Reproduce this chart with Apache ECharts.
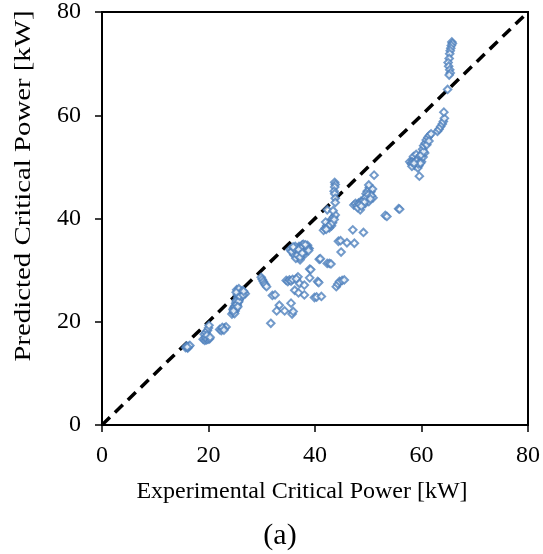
<!DOCTYPE html>
<html>
<head>
<meta charset="utf-8">
<script src="https://cdn.jsdelivr.net/npm/echarts@6/dist/echarts.min.js"></script>
<style>
html,body{margin:0;padding:0;background:#fff;}
#chart{width:543px;height:554px;}
</style>
</head>
<body>
<div id="chart"></div>
<script>
// Experimental vs predicted critical power [kW]
const points = [
  // cluster near 16
  [15.7,15.0],[15.9,15.3],[16.1,14.9],[16.3,15.2],[16.5,15.4],[16.0,15.1],
  // cluster near 20
  [19.0,16.6],[19.3,16.4],[19.6,16.5],[19.9,16.6],[20.2,16.7],[19.4,17.0],[19.2,17.6],[19.5,17.9],[19.8,18.3],[20.0,18.8],[20.1,19.3],[19.7,17.4],[20.3,17.0],
  // cluster near 22.7
  [22.1,18.5],[22.4,18.3],[22.7,18.6],[23.0,18.8],[23.3,19.0],[22.6,18.9],[22.9,18.4],
  // cluster near 25
  [24.4,21.5],[24.7,21.8],[25.0,22.1],[24.6,22.4],[25.2,22.6],[24.9,23.0],[25.4,23.2],[25.1,23.6],[25.6,23.8],[25.3,24.2],[25.8,24.3],[25.5,24.7],[26.0,24.8],[25.4,25.2],[25.9,25.3],[26.3,25.5],[25.6,25.8],[26.1,25.9],[26.7,25.6],[25.3,26.2],[25.7,26.4],[26.4,26.0],[26.9,25.4],[24.8,22.7],[25.2,24.0],[24.9,21.6],
  [25.0,22.9],[25.3,23.4],[25.7,24.0],[26.2,24.9],[25.8,25.0],[26.5,25.2],[25.2,25.7],[26.6,25.9],[24.7,22.1],[25.5,22.9],
  // cluster near 30
  [29.9,28.6],[30.1,28.2],[30.3,27.8],[30.5,27.4],[30.7,27.1],[30.9,26.8],
  // cluster near 35 / 28
  [34.6,28.0],[34.9,27.8],[35.2,28.1],[35.5,27.9],[35.8,28.2],
  // cluster near 37 / 33.5
  [35.3,34.0],[35.8,33.9],[36.2,33.5],[36.5,34.2],[36.9,33.2],[37.0,34.6],[37.3,33.8],[37.6,34.9],[37.8,34.1],[38.1,33.6],[38.3,34.5],[38.6,34.8],[38.9,34.2],[36.8,32.5],[37.2,32.0],[37.5,32.8],[36.0,33.0],[38.0,33.0],[36.4,32.3],[37.8,35.0],
  [36.6,33.7],[37.1,33.0],[37.4,34.3],[37.9,33.4],[38.4,33.9],[36.3,34.6],[36.7,32.9],[38.6,34.3],[37.2,32.5],[35.6,33.6],
  [36.1,34.2],[36.9,34.0],[37.6,33.3],[38.2,34.9],[38.8,33.8],[35.9,34.5],
  // cluster near 43 / 39
  [41.6,37.7],[41.9,38.1],[42.2,38.6],[42.5,39.0],[42.9,39.4],[43.2,39.9],[43.5,40.3],[43.8,40.7],[43.1,38.6],[42.7,38.2],[42.3,41.7],[43.4,41.5],[42.0,39.3],
  [42.4,38.3],[42.8,38.8],[43.3,39.2],[43.6,39.8],[42.1,37.9],
  // column near 43.7
  [43.7,47.0],[43.8,46.6],[43.7,46.1],[43.6,45.3],[43.7,44.8],[43.8,43.9],[43.8,43.1],
  // cluster near 49 / 44
  [47.3,42.6],[47.6,42.9],[47.9,42.5],[48.2,43.0],[48.5,41.7],[48.6,43.3],[48.9,43.0],[49.2,43.6],[49.4,42.9],[49.7,43.8],[49.9,44.3],[50.1,43.3],[50.3,44.7],[50.5,45.2],[50.2,46.0],[49.8,45.3],[50.8,45.7],[50.9,44.0],[50.1,46.5],[51.1,48.4],[49.6,44.8],[48.0,42.1],
  [48.4,42.7],[49.0,43.4],[49.5,44.1],[50.0,44.6],[50.6,44.4],[50.4,43.8],[49.3,43.2],[48.7,42.4],
  // cluster near 59 / 51
  [57.8,51.0],[58.1,50.6],[58.4,51.3],[58.7,50.3],[58.9,51.6],[59.2,50.8],[59.5,50.2],[59.7,51.4],[60.0,51.0],[58.5,52.0],[59.0,52.4],[59.6,52.0],[60.3,51.9],[60.6,52.7],[59.3,49.8],[58.2,50.1],[59.6,48.2],[60.2,53.4],
  [58.3,50.9],[58.8,51.0],[59.1,51.2],[59.4,50.6],[59.8,50.7],[58.6,50.7],[59.9,52.3],[60.4,53.0],
  // cluster near 61 / 55
  [60.4,54.1],[60.7,54.6],[60.9,55.2],[61.2,55.7],[61.5,56.1],[61.8,56.4],[61.0,54.3],[61.4,55.0],
  // cluster near 63.5 / 58
  [63.0,56.9],[63.3,57.3],[63.6,57.8],[63.9,58.3],[64.1,58.8],[64.3,59.4],[64.2,60.6],
  [64.9,65.0],
  // column near 65.5
  [65.7,74.2],[65.8,73.9],[65.6,73.5],[65.5,73.0],[65.4,72.5],[65.3,71.9],[65.2,71.0],[65.0,70.2],[65.1,69.5],[65.3,68.8],[65.4,68.2],[65.2,67.8],
  // scattered points
  [31.7,19.7],[32.0,25.1],[32.5,25.2],[33.3,23.2],[32.8,22.1],[34.3,22.1],[35.5,23.6],[35.7,21.5],[35.9,22.0],[36.2,26.1],[36.8,28.7],[36.5,28.3],[37.1,27.4],[38.0,27.1],[36.9,25.6],[38.0,25.2],[39.0,30.2],[39.2,30.1],[39.0,28.5],[39.9,24.7],[40.3,24.8],[41.2,24.9],[40.5,27.8],[40.7,27.6],[40.8,32.1],[41.0,32.2],[42.3,31.3],[42.7,31.3],[43.0,31.2],[44.9,33.5],[44.4,35.6],[44.8,35.7],[46.0,35.3],[47.4,35.2],[47.1,37.8],[49.1,37.3],[44.0,26.8],[44.3,27.3],[44.6,27.8],[45.1,28.0],[45.5,28.1],[53.2,40.6],[53.5,40.4],[55.7,41.9],[55.9,41.8]
];
const parityLine = [[0,0],[80,80]];
const axisTicks = [0,20,40,60,80];
const xName = 'Experimental Critical Power [kW]';
const yName = 'Predicted Critical Power [kW]';
const caption = '(a)';

const FONT = "'Liberation Serif', 'Times New Roman', serif";
const chart = echarts.init(document.getElementById('chart'), null, {renderer:'canvas'});
const axisCommon = {
  type:'value', min:axisTicks[0], max:axisTicks[axisTicks.length-1], interval:20,
  splitLine:{show:false},
  axisLine:{show:true, onZero:false, lineStyle:{color:'#000', width:2}},
  axisTick:{show:true, inside:false, length:7, lineStyle:{color:'#000', width:1.5}},
  axisLabel:{color:'#000', fontFamily:FONT, fontSize:24}
};
chart.setOption({
  animation:false,
  backgroundColor:'#fff',
  grid:{left:102, right:14, top:12, bottom:129, show:true, borderColor:'#000', borderWidth:2, backgroundColor:'transparent'},
  xAxis:Object.assign({}, axisCommon, {axisLabel:Object.assign({}, axisCommon.axisLabel, {margin:19})}),
  yAxis:Object.assign({}, axisCommon, {axisLabel:Object.assign({}, axisCommon.axisLabel, {margin:21})}),
  graphic:[
    {type:'text', x:302, y:492, style:{text:xName, font:"24px 'Liberation Serif'", fill:'#000', align:'center', verticalAlign:'middle'}},
    {type:'text', x:24, y:186, rotation:Math.PI/2, scaleX:1.2, style:{text:yName, font:"24px 'Liberation Serif'", fill:'#000', align:'center', verticalAlign:'middle'}},
    {type:'text', x:280, y:536, style:{text:caption, font:"30px 'Liberation Serif'", fill:'#000', align:'center', verticalAlign:'middle'}}
  ],
  series:[
    {type:'line', data:parityLine, showSymbol:false, symbol:'none', z:2,
     lineStyle:{color:'#000', width:3.5, type:[11,7]}},
    {type:'scatter', data:points, symbol:'emptyDiamond', symbolSize:7.5, z:3,
     itemStyle:{color:'#4F81BD', borderColor:'#4F81BD', borderWidth:2.4}}
  ]
});
</script>
</body>
</html>
